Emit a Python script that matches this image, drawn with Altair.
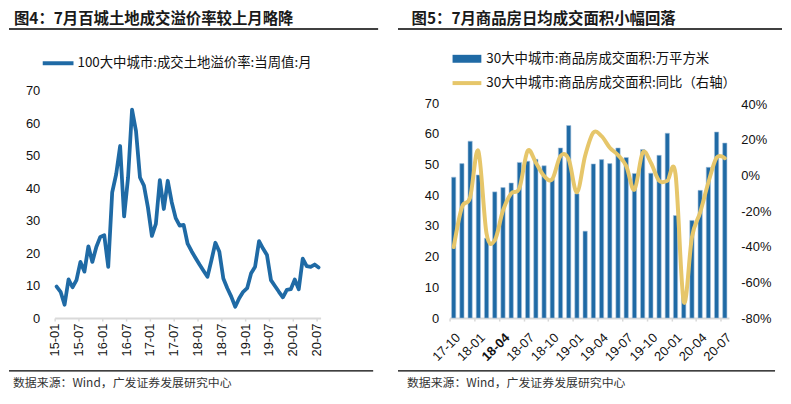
import altair as alt
import pandas as pd

# ---------------- data ----------------
land_months = [f"{y:02d}-{m:02d}" for y in range(15, 21) for m in range(1, 13)][:67]
premium = [9.7, 8.1, 4.1, 11.9, 9.5, 11.7, 17.3, 14.3, 22.1, 17.3, 21.9, 25.0,
           25.5, 15.8, 38.7, 44.3, 53.0, 31.3, 43.3, 64.2, 57.6, 43.3, 40.8, 34.1,
           25.3, 29.0, 42.5, 33.6, 42.3, 35.7, 30.8, 28.5, 28.7, 22.9, 20.6, 18.5,
           16.5, 14.6, 12.7, 17.8, 23.2, 20.4, 12.2, 9.2, 6.6, 3.5, 6.1, 8.1,
           9.2, 13.8, 15.8, 23.7, 21.4, 19.4, 11.7, 9.9, 8.1, 6.4, 8.7, 8.9,
           11.9, 8.9, 18.3, 16.0, 15.8, 16.5, 15.6]
land_tick_labels = ["15-01", "15-07", "16-01", "16-07", "17-01", "17-07",
                    "18-01", "18-07", "19-01", "19-07", "20-01", "20-07"]

sales_months = [f"{y:02d}-{m:02d}" for y in range(17, 21) for m in range(1, 13)][9:43]
area = [45.9, 50.3, 57.6, 46.6, 26.0, 41.1, 42.5, 44.0, 50.7, 51.1, 51.7, 49.6,
        45.1, 55.4, 62.7, 40.5, 28.3, 50.2, 51.6, 50.3, 55.4, 52.3, 47.1, 54.9,
        47.2, 53.0, 60.2, 33.4, 8.2, 31.8, 41.6, 49.1, 60.6, 57.0]
yoy = [-40.2, -17.9, -12.3, 13.7, -32.7, -36.4, -19.7, -10.1, -7.1, 13.7, 7.1, -0.3,
       -2.1, 10.9, 9.0, -9.5, 11.0, 24.0, 22.0, 15.5, 11.4, 5.3, -8.0, 12.7,
       7.1, -3.0, -3.0, 0.7, -70.8, -34.6, -20.7, -4.0, 9.9, 9.6]
sales_tick_labels = ["17-10", "18-01", "18-04", "18-07", "18-10", "19-01",
                     "19-04", "19-07", "19-10", "20-01", "20-04", "20-07"]

title_left = "图4：7月百城土地成交溢价率较上月略降"
title_right = "图5：7月商品房日均成交面积小幅回落"
legend_left = "100大中城市:成交土地溢价率:当周值:月"
legend_right_1 = "30大中城市:商品房成交面积:万平方米"
legend_right_2 = "30大中城市:商品房成交面积:同比（右轴）"
source_note = "数据来源：Wind，广发证券发展研究中心"

df1 = pd.DataFrame({"month": land_months, "idx": list(range(len(premium))), "premium": premium})
df2 = pd.DataFrame({"month": sales_months, "idx": list(range(len(area))), "area": area, "yoy": yoy})
one = pd.DataFrame({"k": [0]})

# ---------------- style ----------------
BLUE = "#1F6AA5"
YELLOW = "#E6C66A"
AXIS_GRAY = "#D9D9D9"
CJK = "Noto Sans CJK SC"
LAT = "Liberation Sans"
H = 229
W1 = 268
W2 = 281.5
TITLE_Y = -72.3


def arr_expr(labels, step):
    arr = "[" + ",".join(f"'{s}'" for s in labels) + "]"
    return f"{arr}[round(datum.value/{step})]"


def txt(s, x, y, size, weight="normal", color="#222222"):
    return alt.Chart(one).mark_text(text=s, align="left", baseline="middle", fontSize=size,
                                    fontWeight=weight, color=color, font=CJK).encode(
        x=alt.value(x), y=alt.value(y))


def hrule(x1, x2, y, color, w):
    return alt.Chart(one).mark_rule(color=color, strokeWidth=w).encode(
        x=alt.value(x1), x2=alt.value(x2), y=alt.value(y))


# ---------------- left panel ----------------
x_axis1 = alt.Axis(values=list(range(0, 67, 6)), labelExpr=arr_expr(land_tick_labels, 6),
                   title=None, grid=False, domainColor=AXIS_GRAY, domainWidth=2,
                   tickColor=AXIS_GRAY, tickSize=3, tickWidth=1.5, labelAngle=270,
                   labelAlign="right", labelBaseline="middle", labelPadding=2,
                   labelOverlap=False, labelFont=LAT, labelFontSize=13,
                   labelColor="#111111")
y_axis1 = alt.Axis(values=list(range(0, 80, 10)), title=None, grid=False, domain=False,
                   ticks=False, labelPadding=15, labelFont=LAT, labelFontSize=13,
                   labelColor="#111111")

line1 = alt.Chart(df1).transform_calculate(xc="datum.idx + 0.5").mark_line(
    color=BLUE, strokeWidth=3.8, strokeJoin="round", strokeCap="round").encode(
    x=alt.X("xc:Q", scale=alt.Scale(domain=[0, 67], nice=False, zero=False), axis=x_axis1),
    y=alt.Y("premium:Q", scale=alt.Scale(domain=[0, 70], nice=False), axis=y_axis1))

left = alt.layer(
    line1,
    txt(title_left, -41, TITLE_Y, 15.5, "bold", "#1a1a1a"),
    hrule(-46, 326, -62.3, "#000000", 1.5),
    hrule(-12, 19, -27.8, BLUE, 4),
    txt(legend_left, 23, -27.8, 13.5, "normal", "#111111"),
    hrule(-46, 321, 282.2, "#000000", 1.2),
    txt(source_note, -42, 294, 12, "normal", "#333333"),
).properties(width=W1, height=H)

# ---------------- right panel ----------------
x_axis2 = alt.Axis(values=list(range(0, 34, 3)), labelExpr=arr_expr(sales_tick_labels, 3),
                   title=None, grid=False, domainColor=AXIS_GRAY, domainWidth=2,
                   tickColor=AXIS_GRAY, tickSize=3, tickWidth=1.5, labelAngle=-45,
                   labelAlign="right", labelBaseline="top", labelPadding=10, labelOffset=4,
                   labelOverlap=False, labelFont=LAT, labelFontSize=13, labelColor="#111111",
                   labelFontWeight={"condition": {"test": "datum.value == 6", "value": "bold"},
                                    "value": "normal"})
x_scale2 = alt.Scale(domain=[0, 34], nice=False, zero=False)

bars = alt.Chart(df2).transform_calculate(
    xs="datum.idx + 0.24", xe="datum.idx + 0.76").mark_rect(
    color=BLUE, stroke="#A8C2DC", strokeWidth=0.6).encode(
    x=alt.X("xs:Q", scale=x_scale2, axis=x_axis2),
    x2="xe:Q",
    y=alt.Y("area:Q", scale=alt.Scale(domain=[0, 74.0], nice=False),
            axis=alt.Axis(values=list(range(0, 80, 10)), title=None, grid=False, domain=False,
                          ticks=False, labelPadding=11, labelFont=LAT, labelFontSize=13,
                          labelColor="#111111")),
    y2=alt.datum(0))

line2 = alt.Chart(df2).transform_calculate(xc="datum.idx + 0.5").mark_line(
    color=YELLOW, strokeWidth=4, interpolate="cardinal", strokeCap="round").encode(
    x=alt.X("xc:Q", scale=x_scale2, axis=x_axis2),
    y=alt.Y("yoy:Q", scale=alt.Scale(domain=[-80, 47.4], nice=False, zero=False),
            axis=alt.Axis(orient="right", values=list(range(-80, 60, 20)),
                          labelExpr="datum.value + '%'", title=None, grid=False,
                          domain=False, ticks=False, labelPadding=12, labelFont=LAT,
                          labelFontSize=13, labelColor="#111111")))

right = alt.layer(
    bars, line2,
    txt(title_right, -38.3, TITLE_Y, 15.5, "bold", "#1a1a1a"),
    hrule(-52, 335, -62.3, "#000000", 1.5),
    alt.Chart(one).mark_rect(color=BLUE).encode(
        x=alt.value(3), x2=alt.value(32), y=alt.value(-36.3), y2=alt.value(-28.3)),
    txt(legend_right_1, 37, -32.3, 13.5, "normal", "#111111"),
    hrule(3, 32, -7.8, YELLOW, 4),
    txt(legend_right_2, 37, -7.8, 13.5, "normal", "#111111"),
    hrule(-52, 328, 282.2, "#000000", 1.2),
    txt(source_note, -43, 294, 12, "normal", "#333333"),
).resolve_scale(y="independent").properties(width=W2, height=H)

chart = alt.hconcat(left, right, spacing=18).properties(
    padding={"top": 2, "left": 0, "right": 0, "bottom": 0}).configure_view(stroke=None)

chart.save("out.html", embed_options={"renderer": "svg", "actions": False})
